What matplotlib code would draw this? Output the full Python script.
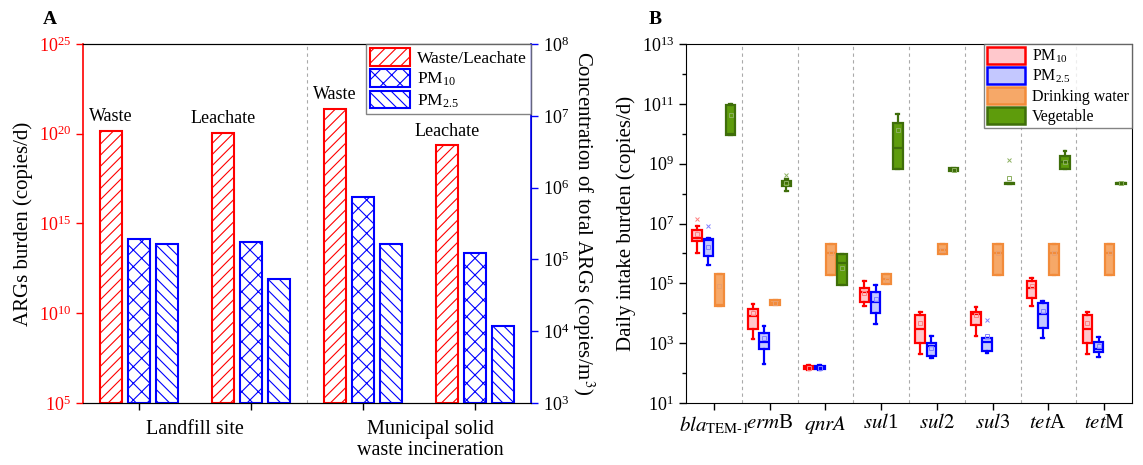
import matplotlib
matplotlib.use('Agg')
import matplotlib.pyplot as plt
import matplotlib.ticker as mticker
from matplotlib.patches import Patch

plt.rcParams['font.family'] = ['Liberation Serif', 'DejaVu Serif']
plt.rcParams['mathtext.fontset'] = 'stix'
plt.rcParams['hatch.linewidth'] = 0.8

RED = '#FF0000'
BLUE = '#0000FF'

# ---- Panel A: burden and airborne concentration ----
SITES = ['Landfill site', 'Municipal solid\nwaste incineration']
SOURCE_LABELS = ['Waste', 'Leachate', 'Waste', 'Leachate']
SOURCE_BURDEN = [1.5e20, 1.1e20, 2.5e21, 2.3e19]   # copies/d (left axis)
PM10_CONC = [1.9e5, 1.75e5, 7.5e5, 1.2e5]          # copies/m3 (right axis)
PM25_CONC = [1.65e5, 5.3e4, 1.65e5, 1.1e4]

# ---- Panel B: daily intake burden, log10(copies/d) ----
GENES = [r'$bla_{\mathrm{TEM}\text{-}\mathrm{1}}$', r'$erm$B', r'$qnrA$', r'$sul$1',
         r'$\mathit{sul2}$', r'$\mathit{sul3}$', r'$tet$A', r'$tet$M']

PM10_LO = [6.01, 3.13, 2.09, 4.24, 2.63, 3.24, 4.25, 2.63]
PM10_Q1 = [6.40, 3.47, 2.13, 4.36, 3.00, 3.61, 4.51, 3.00]
PM10_MED = [6.53, 3.90, 2.18, 4.72, 3.47, 3.97, 4.85, 3.47]
PM10_Q3 = [6.77, 4.14, 2.24, 4.86, 3.94, 4.05, 5.07, 3.94]
PM10_HI = [6.93, 4.30, 2.27, 5.07, 4.05, 4.22, 5.18, 4.05]
PM10_MEAN = [6.66, 4.00, 2.18, 4.68, 3.66, 3.95, 4.90, 3.66]
PM10_OUT = [[7.16], [], [], [], [], [], [], []]

PM25_LO = [5.60, 2.30, 2.09, 3.64, 2.50, 2.68, 3.18, 2.55]
PM25_Q1 = [5.93, 2.80, 2.13, 4.02, 2.58, 2.75, 3.52, 2.72]
PM25_MED = [6.45, 3.05, 2.18, 4.37, 2.91, 3.05, 3.96, 2.81]
PM25_Q3 = [6.49, 3.34, 2.24, 4.70, 3.02, 3.16, 4.33, 3.05]
PM25_HI = [6.52, 3.58, 2.27, 4.94, 3.24, 3.16, 4.41, 3.20]
PM25_MEAN = [6.21, 3.17, 2.18, 4.49, 2.85, 3.25, 4.07, 2.92]
PM25_OUT = [[6.90], [], [], [], [], [3.77], [], []]

DW_Q1 = [4.24, 4.27, 5.29, 4.98, 5.97, 5.29, 5.29, 5.29]
DW_MED = [4.27, 4.35, 6.03, 5.16, 6.13, 6.03, 6.03, 6.03]
DW_Q3 = [5.31, 4.43, 6.30, 5.31, 6.30, 6.30, 6.30, 6.30]
DW_MEAN = [4.90, 4.35, 6.03, 5.10, 6.10, 6.03, 6.03, 6.03]
DW_OUT = [[], [], [], [], [], [], [], []]

VEG_LO = [9.95, 8.10, 4.95, 8.82, 8.74, 8.33, 8.81, 8.33]
VEG_Q1 = [9.95, 8.27, 4.95, 8.82, 8.74, 8.33, 8.81, 8.33]
VEG_MED = [10.00, 8.35, 5.69, 9.53, 8.79, 8.35, 9.05, 8.35]
VEG_Q3 = [10.96, 8.43, 5.97, 10.36, 8.84, 8.37, 9.24, 8.37]
VEG_HI = [11.00, 8.49, 5.97, 10.67, 8.84, 8.37, 9.43, 8.37]
VEG_MEAN = [10.63, 8.35, 5.50, 10.13, 8.79, 8.51, 9.05, 8.35]
VEG_OUT = [[], [8.62], [], [], [], [9.13], [], []]


def make_stats(lo, q1, med, q3, hi, mean, out):
    stats = []
    for i in range(len(q1)):
        stats.append(dict(whislo=10 ** lo[i], q1=10 ** q1[i], med=10 ** med[i],
                          q3=10 ** q3[i], whishi=10 ** hi[i], mean=10 ** mean[i],
                          fliers=[10 ** v for v in out[i]]))
    return stats


def plot_panel_a(ax):
    x = list(range(len(SOURCE_BURDEN)))
    w = 0.2
    ax.bar([i - 0.25 for i in x], SOURCE_BURDEN, w, bottom=1e5, color='white',
           edgecolor=RED, hatch='///', linewidth=1.5)
    ax.set_yscale('log')
    ax.set_ylim(1e5, 1e25)
    ax.set_yticks([1e5, 1e10, 1e15, 1e20, 1e25])
    ax.yaxis.set_minor_locator(mticker.NullLocator())
    ax.set_xlim(-0.5, 3.5)
    ax.set_xticks(x)
    ax.set_xticklabels([''] * len(x))
    ax.set_xticks([0.5, 2.6], SITES, minor=True)
    ax.tick_params(axis='x', which='minor', length=0, pad=12, labelsize=14.5)
    ax.tick_params(axis='x', which='major', length=5, width=1)
    ax.tick_params(axis='y', colors=RED, labelsize=13, length=5, width=1)
    ax.spines['left'].set_color(RED)
    ax.spines['left'].set_linewidth(1.2)
    ax.set_ylabel('ARGs burden (copies/d)', fontsize=15)
    ax.axvline(1.5, color='#aaaaaa', linestyle=(0, (3, 3)), linewidth=0.8)
    for i, (lab, val) in enumerate(zip(SOURCE_LABELS, SOURCE_BURDEN)):
        ax.annotate(lab, (i - 0.25, val), xytext=(0, 4), textcoords='offset points',
                    ha='center', va='bottom', fontsize=13)

    ax2 = ax.twinx()
    ax2.bar(x, PM10_CONC, w, bottom=1e3, color='white', edgecolor=BLUE,
            hatch='xx', linewidth=1.5)
    ax2.bar([i + 0.25 for i in x], PM25_CONC, w, bottom=1e3, color='white',
            edgecolor=BLUE, hatch='\\\\\\', linewidth=1.5)
    ax2.set_yscale('log')
    ax2.set_ylim(1e3, 1e8)
    ax2.set_yticks([1e3, 1e4, 1e5, 1e6, 1e7, 1e8])
    ax2.yaxis.set_minor_locator(mticker.NullLocator())
    ax2.tick_params(axis='y', colors=BLUE, labelsize=13, length=5, width=1,
                    labelcolor='black')
    ax2.spines['right'].set_color(BLUE)
    ax2.spines['right'].set_linewidth(1.2)
    ax2.spines['left'].set_visible(False)
    ax2.set_ylabel('Concentration of total ARGs (copies/m$^3$)', fontsize=15,
                   rotation=270, va='bottom', labelpad=1)

    handles = [Patch(facecolor='white', edgecolor=RED, hatch='///', linewidth=1.5),
               Patch(facecolor='white', edgecolor=BLUE, hatch='xx', linewidth=1.5),
               Patch(facecolor='white', edgecolor=BLUE, hatch='\\\\\\', linewidth=1.5)]
    leg = ax2.legend(handles, ['Waste/Leachate', r'PM$_{\mathregular{10}}$',
                               r'PM$_{\mathregular{2.5}}$'],
                     loc='upper right', borderaxespad=0, fancybox=False,
                     edgecolor='#666666', fontsize=12.5, handlelength=2.3,
                     handleheight=1.15, labelspacing=0.15, borderpad=0.25,
                     handletextpad=0.4)
    leg.get_frame().set_linewidth(1)


def plot_panel_b(ax):
    series = [
        ('PM$_{\\mathregular{10}}$', make_stats(PM10_LO, PM10_Q1, PM10_MED, PM10_Q3, PM10_HI, PM10_MEAN, PM10_OUT),
         -0.3, '#FFC8CC', RED, '#FF8080'),
        ('PM$_{\\mathregular{2.5}}$', make_stats(PM25_LO, PM25_Q1, PM25_MED, PM25_Q3, PM25_HI, PM25_MEAN, PM25_OUT),
         -0.1, '#C4C8FF', BLUE, '#8080FF'),
        ('Drinking water', make_stats(DW_Q1, DW_Q1, DW_MED, DW_Q3, DW_Q3, DW_MEAN, DW_OUT),
         0.1, '#F6A868', '#F28B3A', '#E9A070'),
        ('Vegetable', make_stats(VEG_LO, VEG_Q1, VEG_MED, VEG_Q3, VEG_HI, VEG_MEAN, VEG_OUT),
         0.3, '#5E9C0C', '#3F6E0A', '#8CB060'),
    ]
    handles, labels = [], []
    for label, stats, off, face, edge, light in series:
        pos = [i + off for i in range(len(GENES))]
        ax.bxp(stats, positions=pos, widths=0.17, patch_artist=True, showmeans=True,
               capwidths=0.05, manage_ticks=False,
               boxprops=dict(facecolor=face, edgecolor=edge, linewidth=1.6),
               medianprops=dict(color=edge, linewidth=1.6),
               whiskerprops=dict(color=edge, linewidth=1.6),
               capprops=dict(color=edge, linewidth=1.6),
               meanprops=dict(marker='s', markersize=2.5, markerfacecolor='none',
                              markeredgecolor=light, markeredgewidth=0.7),
               flierprops=dict(marker='x', markersize=3, markeredgecolor=light,
                               markeredgewidth=0.7))
        handles.append(Patch(facecolor=face, edgecolor=edge, linewidth=1.8))
        labels.append(label)

    ax.set_yscale('log')
    ax.set_ylim(10, 1e13)
    ax.set_yticks([10.0 ** k for k in range(1, 14, 2)])
    ax.set_yticks([10.0 ** k for k in range(2, 13, 2)], minor=True)
    ax.yaxis.set_minor_formatter(mticker.NullFormatter())
    ax.set_xlim(-0.5, len(GENES) - 0.5)
    ax.set_xticks(range(len(GENES)), GENES)
    for k in range(len(GENES) - 1):
        ax.axvline(k + 0.5, color='#aaaaaa', linestyle=(0, (3, 3)), linewidth=0.8)
    ax.tick_params(axis='y', which='major', labelsize=13, length=5, width=1)
    ax.tick_params(axis='y', which='minor', length=3, width=1)
    ax.tick_params(axis='x', labelsize=15, length=5, width=1, pad=3)
    ax.set_ylabel('Daily intake burden (copies/d)', fontsize=15)
    leg = ax.legend(handles, labels, loc='upper right', borderaxespad=0, fancybox=False,
                    edgecolor='#666666', fontsize=11.5, handlelength=2.4,
                    handleheight=1.2, labelspacing=0.15, borderpad=0.2,
                    handletextpad=0.4)
    leg.get_frame().set_linewidth(1)


fig = plt.figure(figsize=(11.43, 4.65), dpi=100)
ax_a = fig.add_axes([83 / 1143, 62 / 465, 448 / 1143, 359 / 465])
ax_b = fig.add_axes([686 / 1143, 62 / 465, 446 / 1143, 359 / 465])
plot_panel_a(ax_a)
plot_panel_b(ax_b)
fig.text(50 / 1143, 1 - 20 / 465, 'A', fontsize=14, weight='bold', ha='center', va='center')
fig.text(655 / 1143, 1 - 20 / 465, 'B', fontsize=14, weight='bold', ha='center', va='center')
fig.savefig('out.png', dpi=100)
